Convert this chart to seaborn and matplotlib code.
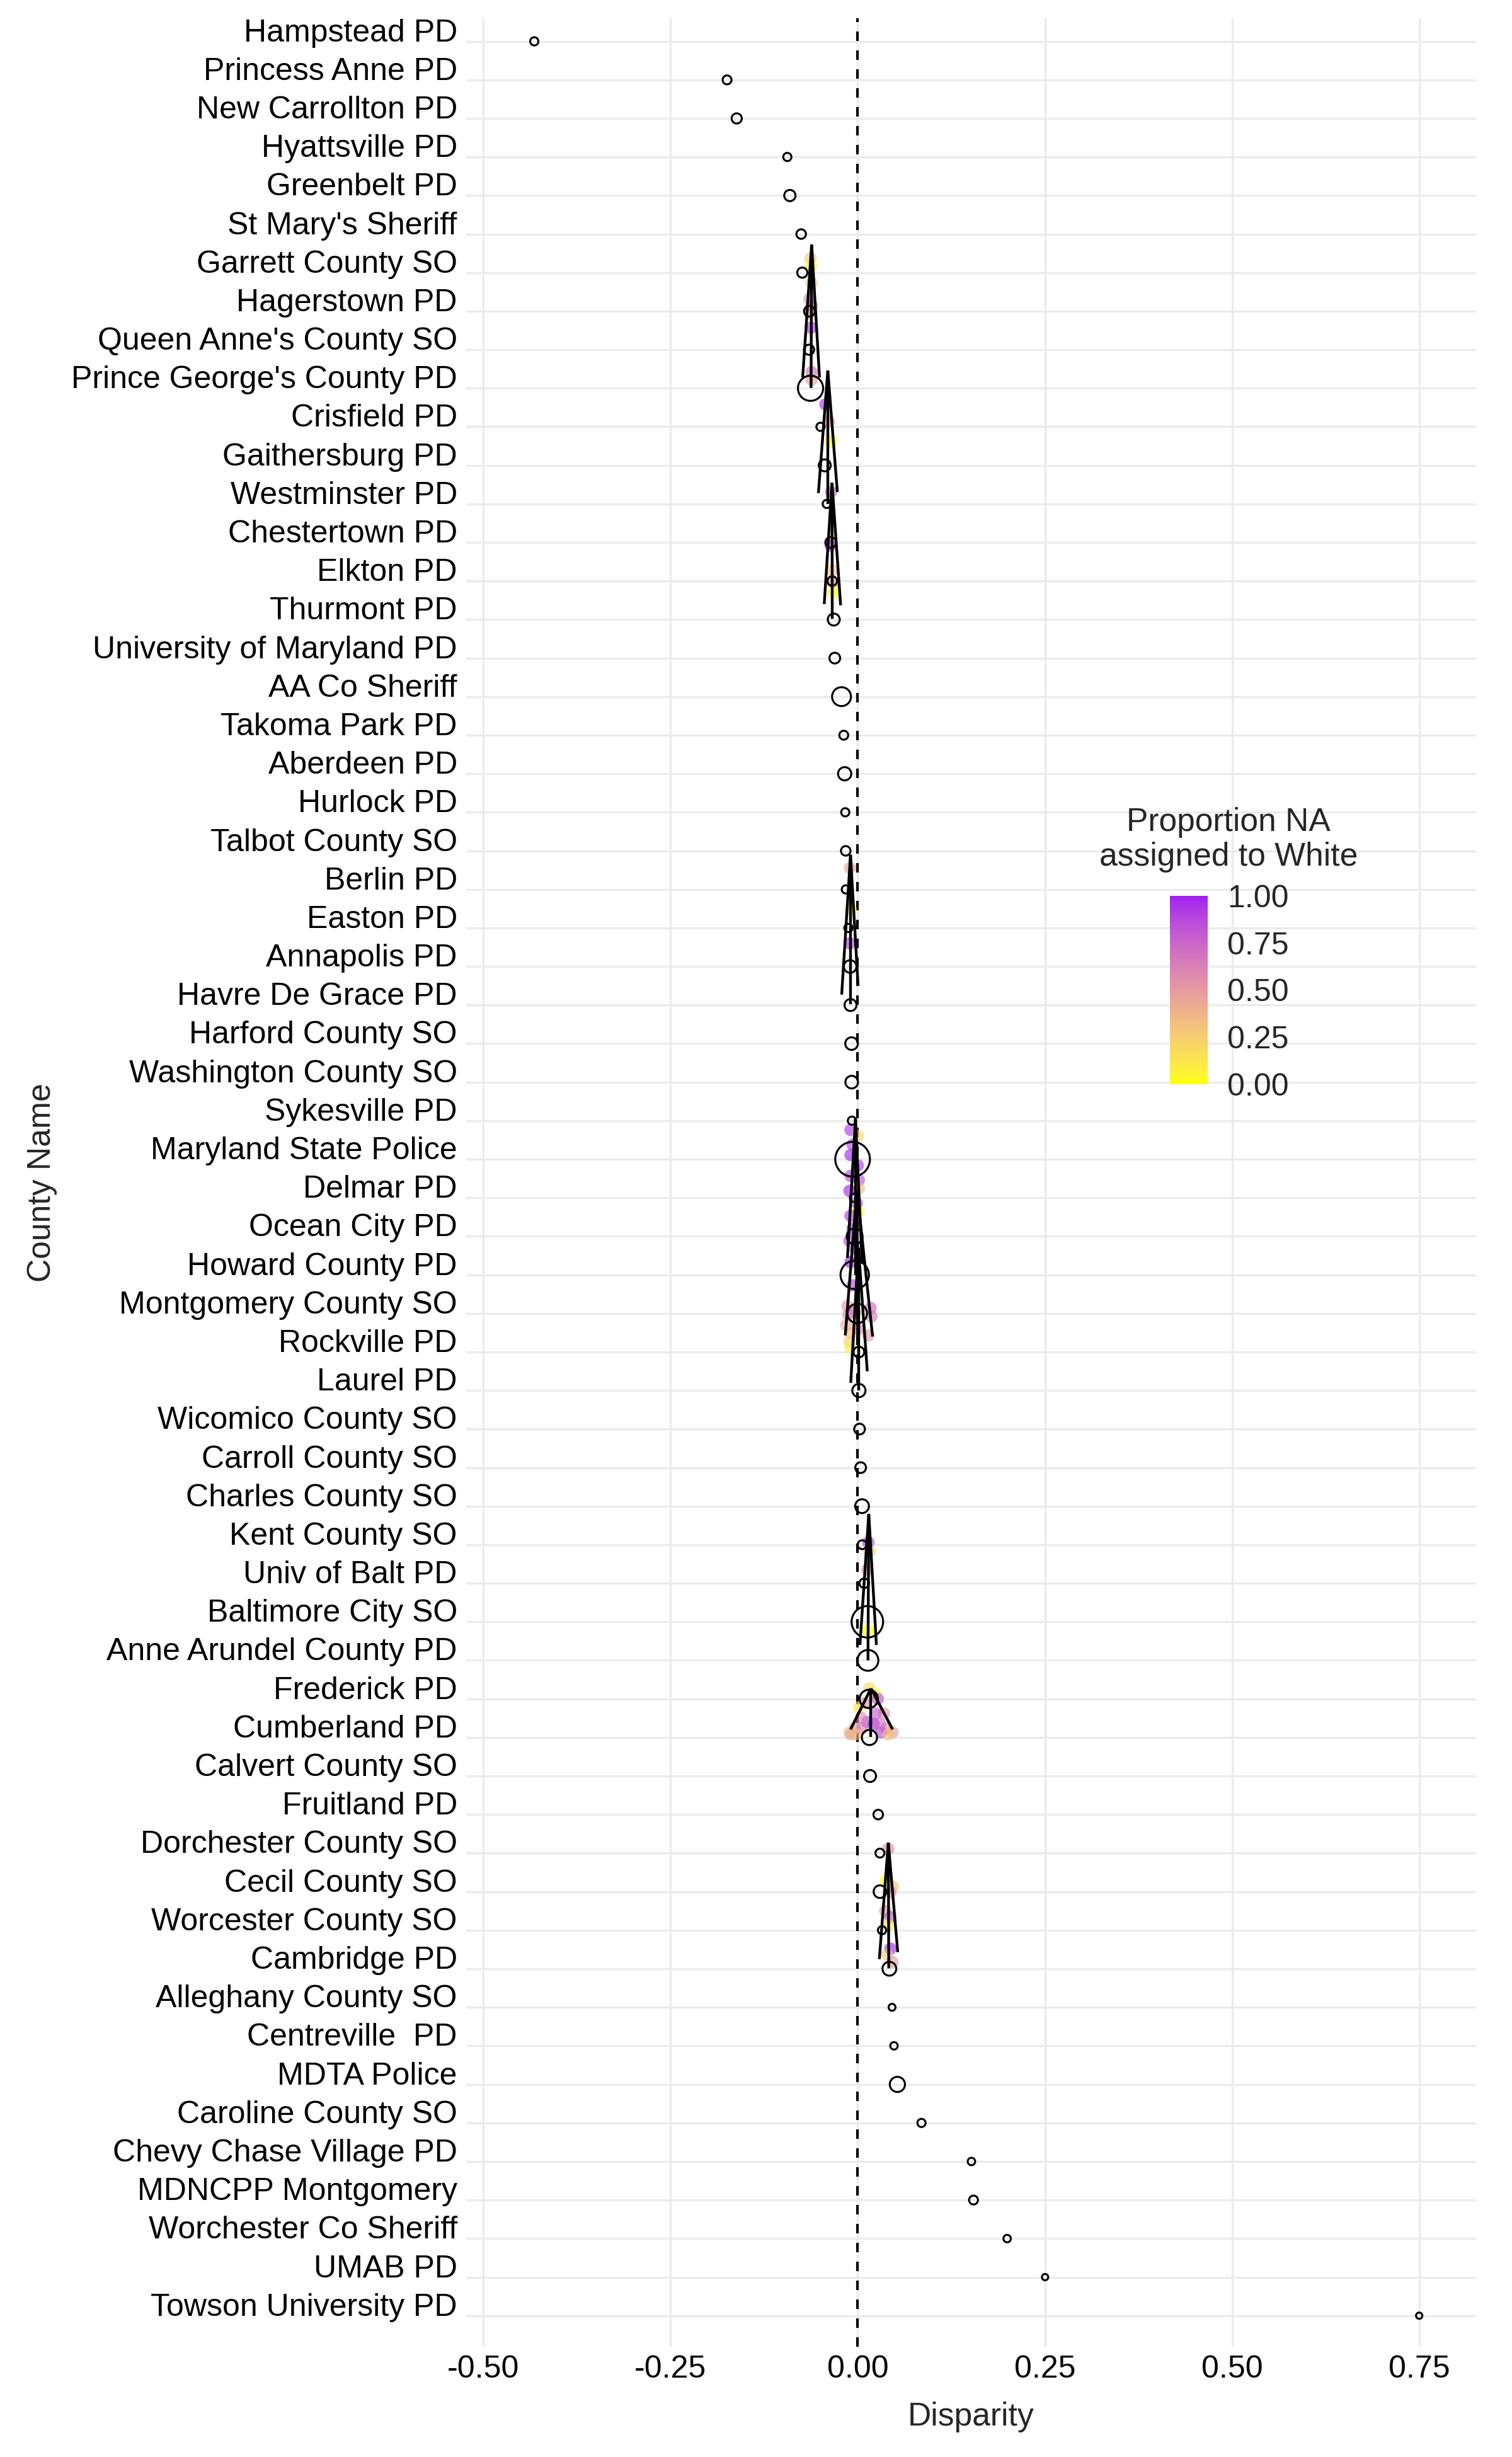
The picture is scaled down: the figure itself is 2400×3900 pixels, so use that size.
import numpy as np
import pandas as pd
import matplotlib
matplotlib.use("Agg")
import matplotlib.pyplot as plt
from matplotlib.colors import ListedColormap, Normalize
from matplotlib.cm import ScalarMappable
import seaborn as sns

AGENCIES = [
    "Hampstead PD", "Princess Anne PD", "New Carrollton PD", "Hyattsville PD",
    "Greenbelt PD", "St Mary's Sheriff", "Garrett County SO", "Hagerstown PD",
    "Queen Anne's County SO", "Prince George's County PD", "Crisfield PD",
    "Gaithersburg PD", "Westminster PD", "Chestertown PD", "Elkton PD",
    "Thurmont PD", "University of Maryland PD", "AA Co Sheriff", "Takoma Park PD",
    "Aberdeen PD", "Hurlock PD", "Talbot County SO", "Berlin PD", "Easton PD",
    "Annapolis PD", "Havre De Grace PD", "Harford County SO",
    "Washington County SO", "Sykesville PD", "Maryland State Police",
    "Delmar PD", "Ocean City PD", "Howard County PD", "Montgomery County SO",
    "Rockville PD", "Laurel PD", "Wicomico County SO", "Carroll County SO",
    "Charles County SO", "Kent County SO", "Univ of Balt PD", "Baltimore City SO",
    "Anne Arundel County PD", "Frederick PD", "Cumberland PD", "Calvert County SO",
    "Fruitland PD", "Dorchester County SO", "Cecil County SO",
    "Worcester County SO", "Cambridge PD", "Alleghany County SO",
    "Centreville  PD", "MDTA Police", "Caroline County SO",
    "Chevy Chase Village PD", "MDNCPP Montgomery", "Worchester Co Sheriff",
    "UMAB PD", "Towson University PD",
]

DISPARITY = [
    -0.432, -0.1745, -0.1616, -0.094, -0.0906, -0.0755, -0.074, -0.0645,
    -0.065, -0.063, -0.0497, -0.044, -0.0413, -0.036, -0.034, -0.032,
    -0.0306, -0.0216, -0.0186, -0.0174, -0.0166, -0.016, -0.0158, -0.0124,
    -0.0101, -0.0096, -0.0082, -0.008, -0.0077, -0.0068, -0.005, -0.0041,
    -0.004, -0.0006, 0.0016, 0.0016, 0.0025, 0.0039, 0.0058, 0.006,
    0.0087, 0.0129, 0.0137, 0.0148, 0.0157, 0.0165, 0.0274, 0.0297,
    0.0297, 0.0325, 0.0423, 0.0459, 0.0485, 0.053, 0.0852, 0.1519,
    0.1547, 0.1996, 0.2503, 0.75,
]

# relative stop volume (drives circle area)
STOPS_K = [
    1.7, 2.0, 2.6, 1.7, 3.2, 2.3, 2.6, 2.9, 2.6, 16.0, 1.7, 3.6, 1.7, 2.9,
    2.3, 3.6, 2.9, 9.0, 2.0, 4.4, 1.7, 2.3, 1.7, 1.7, 4.0, 3.6, 4.0, 4.0,
    1.7, 30.3, 1.7, 6.3, 20.3, 9.6, 2.9, 4.4, 2.9, 2.9, 4.8, 2.0, 2.3,
    25.0, 10.9, 8.4, 5.8, 3.6, 2.3, 2.0, 4.0, 1.7, 4.8, 1.2, 1.4, 5.8,
    1.7, 1.4, 2.0, 1.4, 1.0, 1.0,
]

# re-assigned disparity: (disparity, position on agency axis, proportion NA -> White)
SIM_A = [(-0.0629, 5.63, 0.3), (-0.0623, 5.83, 0.05), (-0.0615, 6.27, 0.3),
         (-0.0643, 6.68, 0.55), (-0.0615, 6.85, 0.8), (-0.0643, 7.05, 0.5),
         (-0.0623, 7.43, 0.95), (-0.0615, 8.58, 0.7), (-0.0615, 8.78, 0.5)]
SIM_B = [(-0.0432, 9.42, 0.95), (-0.0385, 9.86, 0.5), (-0.0356, 10.37, 0.0),
         (-0.0356, 11.69, 0.8)]
SIM_C = [(-0.0362, 13.08, 0.95), (-0.034, 13.72, 0.3), (-0.0334, 14.03, 0.5),
         (-0.0318, 14.3, 0.0)]
SIM_D = [(-0.0101, 21.44, 0.5), (-0.0096, 22.52, 0.0), (-0.0105, 23.4, 0.95)]
SIM_E = [(-0.0096, 28.24, 0.95), (0.0002, 28.4, 0.2), (-0.0068, 28.62, 0.9),
         (-0.0096, 28.89, 1.0), (0.0002, 29.16, 0.95), (-0.0096, 29.43, 0.9),
         (0.0016, 29.54, 0.85), (0.0016, 29.76, 0.35), (-0.011, 29.82, 1.0),
         (-0.0012, 30.14, 0.9), (0.0002, 30.36, 0.0), (-0.0096, 30.47, 0.95),
         (-0.0068, 30.8, 1.0), (-0.011, 31.12, 0.9), (-0.0026, 31.34, 0.95),
         (-0.0096, 31.67, 1.0), (-0.0068, 32.27, 0.9),
         (-0.0138, 32.81, 0.55), (-0.0124, 33.03, 0.6), (-0.0152, 33.3, 0.45),
         (-0.0096, 33.52, 0.35), (-0.011, 33.74, 0.25), (-0.0096, 33.9, 0.1),
         (0.0171, 32.86, 0.75), (0.0185, 33.08, 0.65), (0.0143, 33.57, 0.5),
         (0.0002, 33.41, 0.6), (-0.004, 32.97, 0.7)]
SIM_F = [(0.0142, 38.94, 0.95), (0.0156, 39.18, 0.3), (0.0128, 39.65, 0.6),
         (0.0137, 41.23, 0.0)]
SIM_G = [(0.0157, 42.72, 0.2), (0.0241, 42.89, 0.05), (0.0087, 43.11, 0.55),
         (0.0269, 43.0, 0.85), (0.0016, 43.22, 0.1), (0.0353, 43.38, 0.5),
         (0.0213, 43.65, 1.0), (0.0129, 43.6, 0.9), (0.0045, 43.49, 0.6),
         (-0.004, 43.76, 0.55), (-0.011, 43.87, 0.3), (-0.009, 43.92, 0.45),
         (0.0381, 43.76, 0.6), (0.0465, 43.87, 0.5), (0.0311, 43.87, 0.9),
         (0.0241, 43.38, 0.8), (0.0059, 43.76, 0.65), (-0.0026, 43.92, 0.35),
         (0.0409, 43.92, 0.3), (0.0297, 43.65, 0.7)]
SIM_H = [(0.0409, 46.89, 0.6), (0.0376, 47.71, 0.0), (0.0471, 47.87, 0.3),
         (0.0437, 48.01, 0.6), (0.0367, 48.5, 0.55), (0.0437, 48.66, 0.85),
         (0.0409, 48.88, 0.1), (0.0437, 49.48, 1.0), (0.0395, 49.64, 0.3),
         (0.0465, 49.83, 0.5)]

# spike glyphs: apex, left / middle / right end points
FAN_APEX = [(-0.0615, 5.27), (-0.0399, 8.54), (-0.0343, 11.45), (-0.0096, 21.1),
            (-0.003, 27.96), (-0.001, 29.8), (0.001, 31.3), (0.0148, 38.2),
            (0.0177, 42.73), (0.0409, 46.73)]
FAN_LEFT = [(-0.0735, 8.72), (-0.0525, 11.72), (-0.0447, 14.6), (-0.0214, 24.73),
            (-0.0137, 31.56), (-0.0166, 33.57), (-0.0093, 34.8), (0.003, 41.6),
            (-0.0096, 43.79), (0.0289, 49.75)]
FAN_MID = [(-0.0623, 8.99), (-0.0399, 12.0), (-0.034, 14.98), (-0.0096, 24.98),
           (-0.003, 32.0), (0.0, 33.8), (0.001, 35.0), (0.0137, 42.0),
           (0.0177, 43.98), (0.0415, 49.99)]
FAN_RIGHT = [(-0.051, 8.72), (-0.0272, 11.69), (-0.0228, 14.63), (0.0005, 24.5),
             (0.006, 31.7), (0.0199, 33.6), (0.0128, 34.5), (0.025, 41.6),
             (0.0467, 43.79), (0.0535, 49.57)]

X_TICKS = [-0.50, -0.25, 0.00, 0.25, 0.50, 0.75]
BAR_TICKS = [0.0, 0.25, 0.5, 0.75, 1.0]


def _to_lab(rgb):
    c = np.asarray(rgb, float)
    c = np.where(c <= 0.04045, c / 12.92, ((c + 0.055) / 1.055) ** 2.4)
    m = np.array([[0.4124, 0.3576, 0.1805], [0.2126, 0.7152, 0.0722],
                  [0.0193, 0.1192, 0.9505]])
    xyz = m @ c / np.array([0.95047, 1.0, 1.08883])
    f = np.where(xyz > (6 / 29) ** 3, np.cbrt(xyz), xyz / (3 * (6 / 29) ** 2) + 4 / 29)
    return np.array([116 * f[1] - 16, 500 * (f[0] - f[1]), 200 * (f[1] - f[2])])


def _from_lab(lab):
    L, a, b = lab
    fy = (L + 16) / 116
    f = np.array([fy + a / 500, fy, fy - b / 200])
    xyz = np.where(f > 6 / 29, f ** 3, 3 * (6 / 29) ** 2 * (f - 4 / 29))
    xyz = xyz * np.array([0.95047, 1.0, 1.08883])
    mi = np.array([[3.2406, -1.5372, -0.4986], [-0.9689, 1.8758, 0.0415],
                   [0.0557, -0.2040, 1.0570]])
    c = mi @ xyz
    c = np.where(c <= 0.0031308, 12.92 * c, 1.055 * np.clip(c, 0, None) ** (1 / 2.4) - 0.055)
    return np.clip(c, 0, 1)


def gradient(low, high, n=256):
    # ggplot-style gradient: interpolate in CIE Lab
    lo, hi = _to_lab(low), _to_lab(high)
    return ListedColormap([_from_lab(lo + (hi - lo) * t) for t in np.linspace(0, 1, n)])


def main():
    sns.set_theme(style="white")
    plt.rcParams["font.family"] = ["Liberation Sans", "DejaVu Sans"]
    plt.rcParams["axes.unicode_minus"] = False

    cmap = gradient((1.0, 1.0, 0.0), (160 / 255, 32 / 255, 240 / 255))

    agencies = pd.DataFrame({"agency": AGENCIES, "disparity": DISPARITY,
                             "stops": STOPS_K})
    agencies["pos"] = np.arange(len(agencies))
    sim = pd.DataFrame(SIM_A + SIM_B + SIM_C + SIM_D + SIM_E + SIM_F + SIM_G + SIM_H,
                       columns=["disparity", "pos", "prop"])

    fig = plt.figure(figsize=(8, 13), dpi=300)
    ax = fig.add_axes([0.3083, 0.04487, 0.66795, 0.94769])

    ax.axvline(0, color="black", lw=1.0, dashes=(3.6, 3.6), zorder=1.5)

    sns.scatterplot(data=sim, x="disparity", y="pos", hue="prop", palette=cmap,
                    hue_norm=(0, 1), s=22, alpha=0.62, linewidth=0,
                    legend=False, ax=ax, zorder=2)

    for (ax0, ay0), ends in zip(FAN_APEX, zip(FAN_LEFT, FAN_MID, FAN_RIGHT)):
        for ex, ey in ends:
            ax.plot([ax0, ex], [ay0, ey], color="black", lw=1.05,
                    solid_capstyle="butt", zorder=3)

    pts = sns.scatterplot(data=agencies, x="disparity", y="pos", size="stops",
                          sizes=(5.76 * 1.0, 5.76 * 30.3), size_norm=(1.0, 30.3),
                          facecolor="none", edgecolor="black", linewidth=0.75,
                          legend=False, ax=ax, zorder=4)
    pts.collections[-1].set_facecolor("none")

    ax.set_xlim(-0.523, 0.826)
    ax.set_ylim(len(AGENCIES) - 1 + 0.806, -0.598)
    ax.set_xticks(X_TICKS)
    ax.set_xticklabels([f"{t:.2f}" for t in X_TICKS])
    ax.set_yticks(agencies["pos"])
    ax.set_yticklabels(AGENCIES)
    for lbl in ax.get_yticklabels():
        lbl.set_va("baseline")
    ax.tick_params(axis="both", length=0, labelsize=12, colors="black")
    ax.tick_params(axis="y", pad=3.4)
    ax.tick_params(axis="x", pad=3.0)
    ax.grid(True, color="#EBEBEB", lw=0.8)
    ax.set_axisbelow(True)
    for sp in ax.spines.values():
        sp.set_visible(False)

    ax.set_xlabel("Disparity", fontsize=12.4)
    ax.xaxis.set_label_coords(0.5, -0.0303)
    ax.xaxis.label.set_va("center")
    ax.set_ylabel("County Name", fontsize=12.4)
    ax.yaxis.set_label_coords(-0.4198, 0.5)
    ax.yaxis.label.set_va("center")

    # colour bar legend
    cax = fig.add_axes([0.77375, 0.55872, 0.025, 0.07667])
    cb = fig.colorbar(ScalarMappable(Normalize(0, 1), cmap), cax=cax)
    cb.outline.set_visible(False)
    cb.set_ticks(BAR_TICKS)
    cb.set_ticklabels([f"{t:.2f}" for t in BAR_TICKS])
    cax.tick_params(axis="y", direction="in", color="white", length=2.9,
                    width=0.5, left=True, right=True, labelsize=12, pad=7.4)
    fig.text(1950 / 2400, 1 - 1333 / 3900, "Proportion NA\nassigned to White",
             ha="center", va="center", fontsize=12.4, linespacing=1.15)

    fig.savefig("out.png", dpi=300)
    plt.close(fig)


if __name__ == "__main__":
    main()
